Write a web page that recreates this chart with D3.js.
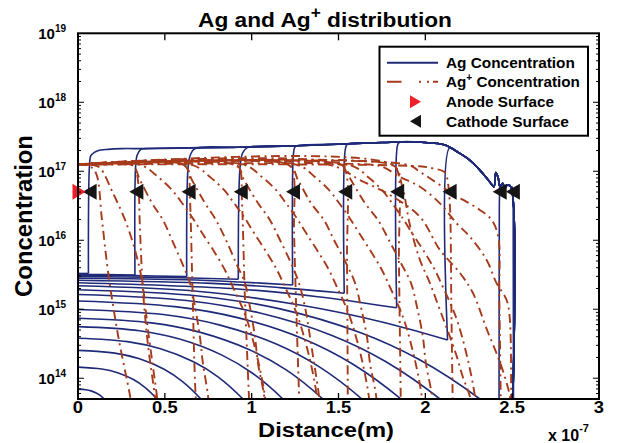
<!DOCTYPE html>
<html><head><meta charset="utf-8">
<script src="https://cdn.jsdelivr.net/npm/d3@7"></script>
<style>
html,body{margin:0;padding:0;background:#fff;}
svg{display:block;}
text{font-family:"Liberation Sans",Arial,Helvetica,sans-serif;font-weight:bold;fill:#000;}
</style></head><body>
<svg id="chart" width="624" height="443"></svg>
<script>
// ---------- DATA (distance in units of 1e-7 m, concentration) ----------
const xTicks = [0, 0.5, 1, 1.5, 2, 2.5, 3];
const xTickLabels = ["0", "0.5", "1", "1.5", "2", "2.5", "3"];
const xTopTicks = [0.5, 1, 1.5, 2];
const yTickExp = [14, 15, 16, 17, 18, 19];

// Ag: lower family of profiles (start at x=0, fall off the bottom)
const agLowCurves = [
  [[0,1.92e15],[0.694,1.56e15],[1.157,1.02e15],[1.620,4.63e14],[1.967,1.85e14],[2.314,5.0e13],[2.545,1.62e13]],
  [[0,1.64e15],[0.625,1.34e15],[1.042,8.89e14],[1.459,4.21e14],[1.771,1.75e14],[2.084,5.0e13],[2.292,1.70e13]],
  [[0,1.32e15],[0.558,1.09e15],[0.930,7.44e14],[1.302,3.68e14],[1.581,1.61e14],[1.860,5.0e13],[2.046,1.82e13]],
  [[0,9.93e14],[0.491,8.37e14],[0.818,5.89e14],[1.145,3.10e14],[1.390,1.46e14],[1.635,5.0e13],[1.799,1.99e13]],
  [[0,7.41e14],[0.423,6.35e14],[0.705,4.62e14],[0.987,2.59e14],[1.199,1.32e14],[1.410,5.0e13],[1.551,2.17e13]],
  [[0,5.60e14],[0.354,4.88e14],[0.590,3.67e14],[0.826,2.18e14],[1.003,1.19e14],[1.180,5.0e13],[1.298,2.37e13]],
  [[0,3.80e14],[0.285,3.39e14],[0.475,2.67e14],[0.665,1.73e14],[0.808,1.04e14],[0.950,5.0e13],[1.045,2.67e13]],
  [[0,2.53e14],[0.212,2.31e14],[0.354,1.91e14],[0.496,1.35e14],[0.602,8.95e13],[0.708,5.0e13],[0.779,3.03e13]],
  [[0,1.45e14],[0.137,1.36e14],[0.228,1.20e14],[0.319,9.57e13],[0.387,7.33e13],[0.455,5.0e13],[0.501,3.61e13]],
  [[0,6.95e13],[0.045,6.82e13],[0.075,6.56e13],[0.105,6.12e13],[0.128,5.64e13],[0.150,5.0e13],[0.165,4.53e13]]
];

// Ag: stepped profiles - low part before the step
const agStepLow = [
  [[0,3.30e15],[0.060,3.30e15]],
  [[0,3.21e15],[0.17,3.18e15],[0.328,3.14e15]],
  [[0,3.11e15],[0.32,3.07e15],[0.626,2.97e15]],
  [[0,2.97e15],[0.47,2.90e15],[0.923,2.72e15]],
  [[0,2.81e15],[0.62,2.67e15],[0.93,2.48e15],[1.236,2.25e15]],
  [[0,2.63e15],[0.77,2.37e15],[1.16,2.06e15],[1.533,1.71e15]],
  [[0,2.42e15],[0.92,1.97e15],[1.38,1.52e15],[1.835,1.05e15]],
  [[0,2.19e15],[0.70,1.81e15],[1.278,1.15e15],[1.75,6.55e14],[2.128,3.59e14]]
];
// Ag: the rise at each step up to the high plateau
const agStepRise = [
  [[0.060,3.30e15],[0.066,1.19e17],[0.074,1.69e17],[0.092,1.86e17]],
  [[0.328,3.14e15],[0.332,1.19e17],[0.341,1.72e17],[0.362,2.08e17]],
  [[0.626,2.97e15],[0.635,1.23e17],[0.648,1.75e17],[0.672,2.12e17]],
  [[0.923,2.72e15],[0.934,1.23e17],[0.948,1.84e17],[0.975,2.20e17]],
  [[1.236,2.25e15],[1.240,1.72e17],[1.248,2.22e17],[1.262,2.34e17]],
  [[1.533,1.71e15],[1.541,2.20e17],[1.552,2.48e17]],
  [[1.835,1.05e15],[1.841,2.45e17],[1.852,2.64e17]],
  [[2.128,3.59e14],[2.140,2.20e17]]
];
// Ag: high plateau (filament) envelope, wiggle near the cathode, drop
const agEnvelope = [
  [0.115,1.99e17],[0.173,2.08e17],[0.249,2.13e17],[0.386,2.13e17],[0.633,2.18e17],
  [0.921,2.23e17],[1.228,2.33e17],[1.535,2.49e17],[1.690,2.57e17],[1.842,2.66e17],
  [1.957,2.66e17],[2.034,2.57e17],[2.113,2.40e17],[2.188,1.89e17],[2.245,1.52e17],
  [2.314,1.04e17],[2.372,6.95e16],[2.395,5.98e16],[2.406,9.55e16],[2.420,7.92e16],
  [2.430,5.98e16],[2.445,6.70e16],[2.458,5.67e16],[2.471,6.33e16],[2.492,5.98e16],
  [2.496,1.0e13]
];
const agLastStep = [[2.424,1.0e13],[2.426,3.0e16],[2.428,6.0e16],[2.445,6.70e16],[2.458,5.67e16],
  [2.471,6.33e16],[2.500,5.90e16],[2.506,3.0e16],[2.508,1.0e13]];

// Ag+ profiles (dash-dot)
const agPlusCurves = [
  [[0,1.25e17],[0.04,1.25e17],[0.081,1.12e17],[0.108,8.8e16],[0.138,1.97e16],[0.174,3.36e15],[0.232,4.0e14],[0.299,5.7e13],[0.322,2.5e13]],
  [[0,1.24e17],[0.09,1.23e17],[0.127,1.12e17],[0.201,4.85e16],[0.271,1.97e16],[0.328,7.23e15],[0.368,2.66e15],[0.403,5.0e14],[0.455,5.36e13],[0.47,2.5e13]],
  [[0,1.26e17],[0.299,1.26e17],[0.328,1.12e17],[0.345,7.5e16],[0.357,1.41e16],[0.374,1.91e15],[0.403,3.03e14],[0.443,5.36e13],[0.455,2.5e13]],
  [[0,1.24e17],[0.311,1.23e17],[0.357,7.48e16],[0.426,3.47e16],[0.489,1.97e16],[0.541,1.01e16],[0.599,4.69e15],[0.645,2.41e15],[0.674,1.08e15],[0.702,3.97e14],[0.719,1.67e14],[0.748,5.73e13],[0.760,2.5e13]],
  [[0,1.25e17],[0.357,1.24e17],[0.461,8.27e16],[0.541,5.36e16],[0.599,3.47e16],[0.656,2.18e16],[0.714,1.28e16],[0.789,6.55e15],[0.846,3.71e15],[0.892,2.10e15],[0.944,1.08e15],[0.979,6.33e14],[1.036,1.84e14],[1.077,5.36e13],[1.088,2.5e13]],
  [[0,1.25e17],[0.605,1.25e17],[0.633,1.04e17],[0.645,3.84e16],[0.656,4.1e15],[0.674,8.55e13],[0.685,2.5e13]],
  [[0,1.24e17],[0.610,1.24e17],[0.656,7.48e16],[0.731,3.47e16],[0.794,1.97e16],[0.852,1.01e16],[0.910,4.69e15],[0.961,2.41e15],[0.990,1.08e15],[1.019,3.97e14],[1.036,1.67e14],[1.071,5.73e13],[1.082,2.5e13]],
  [[0,1.26e17],[0.656,1.24e17],[0.760,8.27e16],[0.841,5.36e16],[0.898,3.47e16],[0.956,2.18e16],[1.013,1.28e16],[1.088,6.55e15],[1.146,3.71e15],[1.192,2.10e15],[1.244,1.08e15],[1.278,6.33e14],[1.336,1.84e14],[1.376,5.36e13],[1.387,2.5e13]],
  [[0,1.25e17],[0.904,1.24e17],[0.933,1.04e17],[0.944,3.84e16],[0.961,1.51e15],[0.990,2.5e13]],
  [[0,1.25e17],[0.910,1.24e17],[0.956,7.48e16],[1.036,3.47e16],[1.105,1.97e16],[1.163,1.01e16],[1.226,4.69e15],[1.272,2.41e15],[1.307,1.08e15],[1.336,3.97e14],[1.359,1.67e14],[1.387,5.73e13],[1.399,2.5e13]],
  [[0,1.24e17],[0.956,1.24e17],[1.059,8.27e16],[1.140,5.36e16],[1.197,3.47e16],[1.255,2.18e16],[1.313,1.28e16],[1.387,6.55e15],[1.445,3.71e15],[1.491,2.10e15],[1.543,1.08e15],[1.577,6.33e14],[1.635,1.84e14],[1.675,5.36e13],[1.687,2.5e13]],
  [[0,1.26e17],[1.209,1.25e17],[1.238,9.8e16],[1.244,1.41e16],[1.255,1.36e15],[1.278,2.5e13]],
  [[0,1.25e17],[1.215,1.24e17],[1.267,7.48e16],[1.341,3.47e16],[1.416,1.97e16],[1.474,1.01e16],[1.543,4.69e15],[1.595,2.41e15],[1.629,1.08e15],[1.664,3.97e14],[1.681,1.67e14],[1.716,5.73e13],[1.727,2.5e13]],
  [[0,1.25e17],[1.261,1.24e17],[1.364,8.27e16],[1.445,5.36e16],[1.503,3.47e16],[1.560,2.18e16],[1.618,1.28e16],[1.692,6.55e15],[1.750,3.71e15],[1.796,2.10e15],[1.848,1.08e15],[1.883,6.33e14],[1.940,1.84e14],[1.980,5.36e13],[1.992,2.5e13]],
  [[0,1.26e17],[1.514,1.24e17],[1.543,9.8e16],[1.549,5.18e15],[1.554,2.5e13]],
  [[0,1.24e17],[1.520,1.23e17],[1.572,7.48e16],[1.652,3.47e16],[1.727,1.97e16],[1.790,1.01e16],[1.859,4.69e15],[1.917,2.41e15],[1.952,1.08e15],[1.986,3.97e14],[2.003,1.67e14],[2.038,5.73e13],[2.055,2.5e13]],
  [[0,1.25e17],[1.566,1.23e17],[1.670,8.27e16],[1.750,5.36e16],[1.808,3.47e16],[1.865,2.18e16],[1.923,1.28e16],[1.998,6.55e15],[2.055,3.71e15],[2.101,2.10e15],[2.153,1.08e15],[2.188,6.33e14],[2.245,1.84e14],[2.286,5.36e13],[2.297,2.5e13]],
  [[0,1.24e17],[1.451,1.23e17],[1.623,7.48e16],[1.796,4.54e16],[1.969,2.18e16],[2.084,7.23e15],[2.199,3.36e15],[2.274,1.72e15],[2.355,5.01e14],[2.418,2.04e14],[2.458,1.04e14],[2.487,5.36e13],[2.493,2.5e13]],
  [[0,1.25e17],[1.813,1.23e17],[1.842,9.8e16],[1.848,5.18e15],[1.860,2.5e13]],
  [[0,1.26e17],[1.813,1.23e17],[1.865,6.33e16],[1.911,1.67e16],[1.969,5.18e15],[2.026,2.41e15],[2.084,9.77e14],[2.142,3.97e14],[2.182,2.04e14],[2.216,1.04e14],[2.257,5.36e13],[2.268,2.5e13]],
  [[0,1.24e17],[1.710,1.23e17],[1.767,1.12e17],[1.854,8.27e16],[1.969,5.98e16],[2.084,3.43e16],[2.180,1.76e16],[2.257,1.12e16],[2.353,5.18e15],[2.410,2.39e15],[2.468,1.36e15],[2.487,7.0e14],[2.493,2.5e13]],
  [[0,1.25e17],[1.969,1.18e17],[2.044,1.10e17],[2.113,9.6e16],[2.130,6.8e16],[2.142,3.0e16],[2.150,1.0e15],[2.159,2.5e13]],
  [[0,1.26e17],[1.90,1.24e17],[1.969,9.8e16],[2.101,5.9e16],[2.159,4.6e16],[2.238,3.6e16],[2.314,2.75e16],[2.382,1.97e16],[2.420,1.12e16],[2.426,1.5e15],[2.436,2.5e13]]
];

// markers
const cathodeX = [0.067, 0.336, 0.637, 0.937, 1.238, 1.539, 1.838, 2.140, 2.428, 2.504];
const cathodeY = [5.06e16, 5.06e16, 5.06e16, 5.06e16, 5.06e16, 5.06e16, 5.06e16, 5.06e16, 5.06e16, 5.06e16];
const anodeX = [0];
const anodeY = [5.06e16];

const legendLabels = ["Ag Concentration", "Concentration", "Anode Surface", "Cathode Surface"];

// ---------- DRAW ----------
const W = 624, H = 443;
const M = {left: 78, right: 599, top: 33.3, bottom: 399};
const BLUE = "#1f2a78", RED = "#a63b1c";
const x = d3.scaleLinear().domain([0, 3]).range([M.left, M.right]);
const y = d3.scaleLog().domain([5e13, 1e19]).range([M.bottom, M.top]);

const svg = d3.select("#chart");
svg.append("rect").attr("width", W).attr("height", H).attr("fill", "#fff");
svg.append("defs").append("clipPath").attr("id", "clip")
  .append("rect").attr("x", M.left).attr("y", M.top)
  .attr("width", M.right - M.left).attr("height", M.bottom - M.top);

const line = d3.line().x(d => x(d[0])).y(d => y(d[1])).curve(d3.curveCatmullRom.alpha(0.5));
const plot = svg.append("g").attr("clip-path", "url(#clip)");

// Ag lower family
plot.selectAll("path.low").data(agLowCurves).join("path").attr("class", "low")
  .attr("d", line).attr("fill", "none").attr("stroke", BLUE).attr("stroke-width", 1.6);

// Ag stepped curves
agStepLow.forEach((low, k) => {
  const rise = agStepRise[k];
  const lastX = rise[rise.length - 1][0];
  const upper = rise.concat(agEnvelope.filter(p => p[0] > lastX));
  plot.append("path").attr("d", line(low)).attr("fill", "none").attr("stroke", BLUE).attr("stroke-width", 1.6);
  plot.append("path").attr("d", line(upper)).attr("fill", "none").attr("stroke", BLUE).attr("stroke-width", 1.6);
});
plot.append("path").attr("d", d3.line().x(d => x(d[0])).y(d => y(d[1]))(agLastStep))
  .attr("fill", "none").attr("stroke", BLUE).attr("stroke-width", 1.6);

// Ag+ curves
plot.selectAll("path.agp").data(agPlusCurves).join("path").attr("class", "agp")
  .attr("d", line).attr("fill", "none").attr("stroke", RED).attr("stroke-width", 1.9)
  .attr("stroke-dasharray", "9,4.5,2,4.5").attr("stroke-dashoffset", (d, i) => (i % 3) * 7);

// markers
function triLeft(cx, cy, w, h) { return `M${cx - w / 2},${cy}L${cx + w / 2},${cy - h / 2}L${cx + w / 2},${cy + h / 2}Z`; }
function triRight(cx, cy, w, h) { return `M${cx + w / 2},${cy}L${cx - w / 2},${cy - h / 2}L${cx - w / 2},${cy + h / 2}Z`; }
svg.append("g").selectAll("path").data(cathodeX.map((v, i) => [v, cathodeY[i]])).join("path")
  .attr("d", d => triLeft(x(d[0]), y(d[1]), 14, 16)).attr("fill", "#151515");
svg.append("g").selectAll("path").data(anodeX.map((v, i) => [v, anodeY[i]])).join("path")
  .attr("d", d => triRight(x(d[0]) + 1, y(d[1]), 13, 16)).attr("fill", "#ee1f26");

// axes box and ticks
const ax = svg.append("g").attr("stroke", "#000");
ax.append("rect").attr("x", M.left).attr("y", M.top).attr("width", M.right - M.left)
  .attr("height", M.bottom - M.top).attr("fill", "none").attr("stroke-width", 2);
xTicks.forEach(t => {
  ax.append("line").attr("x1", x(t)).attr("x2", x(t)).attr("y1", M.bottom).attr("y2", M.bottom - 6).attr("stroke-width", 1.3);
});
xTopTicks.forEach(t => {
  ax.append("line").attr("x1", x(t)).attr("x2", x(t)).attr("y1", M.top).attr("y2", M.top + 7).attr("stroke-width", 1.3);
});
const yDom = y.domain();
for (let e = 13; e <= 18; e++) {
  for (let m = 1; m <= 9; m++) {
    const v = m * Math.pow(10, e);
    if (v < yDom[0] || v > yDom[1]) continue;
    const len = m === 1 ? 6 : 3;
    ax.append("line").attr("x1", M.left).attr("x2", M.left + len).attr("y1", y(v)).attr("y2", y(v)).attr("stroke-width", 1);
    ax.append("line").attr("x1", M.right).attr("x2", M.right - len).attr("y1", y(v)).attr("y2", y(v)).attr("stroke-width", 1);
  }
}

function fitW(sel, target, axp) {
  const w = sel.node().getBBox().width;
  const k = target / w;
  sel.attr("transform", `translate(${axp},0) scale(${k},1) translate(${-axp},0)`);
}

// tick labels
xTicks.forEach((t, i) => {
  const tl = svg.append("text").attr("x", x(t)).attr("y", 413.5).attr("text-anchor", "middle")
    .attr("font-size", 16).text(xTickLabels[i]);
  fitW(tl, tl.node().getBBox().width * 1.15, x(t));
});
yTickExp.forEach(e => {
  const t = svg.append("text").attr("x", 66).attr("y", y(Math.pow(10, e)) + 5.5).attr("text-anchor", "end");
  t.append("tspan").attr("font-size", 15).text("10");
  t.append("tspan").attr("font-size", 10).attr("dy", -6.5).text(String(e));
});

// title
const title = svg.append("text").attr("x", 325).attr("y", 27).attr("text-anchor", "middle").attr("font-size", 21);
title.append("tspan").text("Ag and Ag");
title.append("tspan").attr("font-size", 16).attr("dy", -9).text("+");
title.append("tspan").attr("dy", 9).text(" distribution");
fitW(title, 254, 325);

// axis labels
const yl = svg.append("g").attr("transform", "translate(32,216) rotate(-90)");
const ylt = yl.append("text").attr("x", 0).attr("y", 0).attr("text-anchor", "middle").attr("font-size", 23).text("Concentration");
fitW(ylt, 162, 0);
const xl = svg.append("text").attr("x", 326).attr("y", 437).attr("text-anchor", "middle").attr("font-size", 19.5).text("Distance(m)");
fitW(xl, 136, 326);
const ex = svg.append("text").attr("x", 548).attr("y", 441).attr("font-size", 16);
ex.append("tspan").text("x 10");
ex.append("tspan").attr("font-size", 11).attr("dy", -9).text("-7");

// legend
const lg = svg.append("g");
lg.append("rect").attr("x", 379.5).attr("y", 46.7).attr("width", 208.5).attr("height", 89)
  .attr("fill", "#fff").attr("stroke", "#000").attr("stroke-width", 2);
const ly = [62.7, 81.7, 101.7, 121.3];
lg.append("line").attr("x1", 387).attr("x2", 438).attr("y1", ly[0]).attr("y2", ly[0]).attr("stroke", BLUE).attr("stroke-width", 2);
lg.append("line").attr("x1", 387).attr("x2", 438).attr("y1", ly[1]).attr("y2", ly[1]).attr("stroke", RED).attr("stroke-width", 2)
  .attr("stroke-dasharray", "14.5,17.5,2,6,2,4,10");
lg.append("path").attr("d", triRight(415.5, ly[2], 11, 13)).attr("fill", "#ee1f26");
lg.append("path").attr("d", triLeft(415.5, ly[3], 11, 13)).attr("fill", "#151515");
const lw = [129, 134, 108, 123];
ly.forEach((yy, i) => {
  const t = lg.append("text").attr("x", 446).attr("y", yy + 5.5).attr("font-size", 15);
  if (i === 1) {
    t.append("tspan").text("Ag");
    t.append("tspan").attr("font-size", 10).attr("dy", -6).text("+");
    t.append("tspan").attr("dy", 6).text(" " + legendLabels[1]);
  } else {
    t.text(legendLabels[i]);
  }
  fitW(t, lw[i], 446);
});
</script></body></html>
